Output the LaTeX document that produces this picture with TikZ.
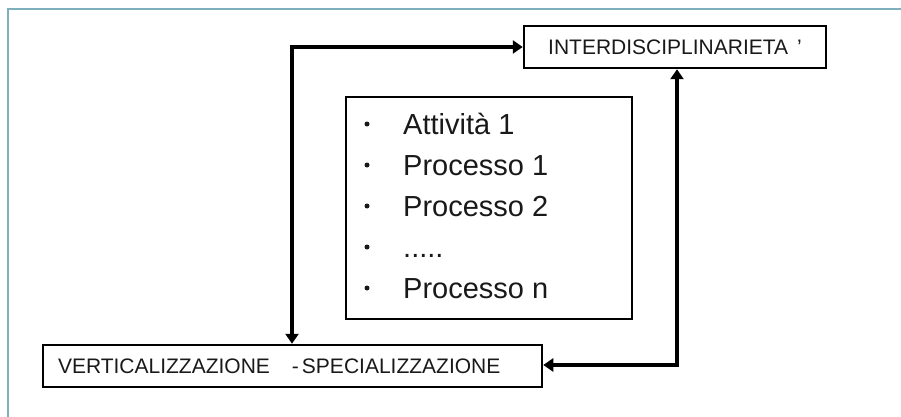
\documentclass[tikz,border=0pt]{standalone}
\usepackage{fontspec}
\setmainfont{Liberation Sans}
\usetikzlibrary{arrows.meta}
\definecolor{framecol}{RGB}{125,175,190}
\definecolor{inkcol}{RGB}{25,25,25}
\tikzset{
  boxnode/.style={draw=black, line width=2.5pt, minimum height=42pt, inner ysep=0pt, text=inkcol, font=\fontsize{21}{24}\selectfont},
  listbox/.style={draw=black, line width=1.6pt, minimum width=286pt, minimum height=222pt, inner sep=0pt},
  item/.style={anchor=base west, inner sep=0pt, text=inkcol, font=\fontsize{29}{32}\selectfont},
  conn/.style={line width=3.8pt, {Triangle[length=10pt,width=13pt]}-{Triangle[length=10pt,width=13pt]}},
}
\begin{document}
\begin{tikzpicture}[x=1pt,y=-1pt]
\useasboundingbox (0,0) rectangle (901,417);
\draw[framecol, line width=1.5pt] (8,417) -- (8,9) -- (901,9);

\node[boxnode, minimum width=302pt] (inter) at (675,47) {INTERDISCIPLINARIETA\hspace{9pt}’};
\node[boxnode, minimum width=499pt, text width=469pt, align=left, inner xsep=15pt] (vert) at (292.5,366)
  {VERTICALIZZAZIONE\hspace{22pt}-\hspace{3pt}SPECIALIZZAZIONE};

\node[listbox] (list) at (489,208) {};
\node[item] (i1) at (403,134) {Attività 1};
\node[item] (i2) at (403,175) {Processo 1};
\node[item] (i3) at (403,216) {Processo 2};
\node[item] (i4) at (403,257) {.....};
\node[item] (i5) at (403,298) {Processo n};
\foreach \yy in {124,165,206,247,288} \fill[inkcol] (367,\yy) circle (2.5pt);

\coordinate (c1) at (292,47);
\coordinate (c2) at (677,365);
\draw[conn] (inter.west) -- (c1) -- (vert.north -| c1);
\draw[conn] (inter.south -| c2) -- (c2) -- (vert.east |- c2);
\end{tikzpicture}
\end{document}
